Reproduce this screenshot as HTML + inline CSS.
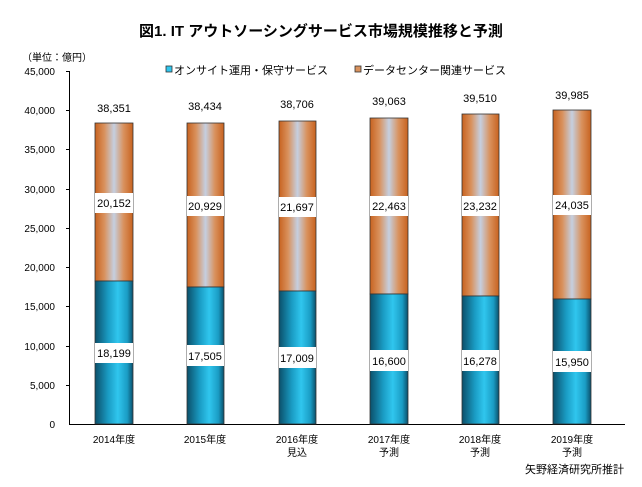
<!DOCTYPE html>
<html><head><meta charset="utf-8"><style>
body{margin:0;background:#fff;}
svg text{font-family:"Liberation Sans","Noto Sans CJK JP",sans-serif;}
</style></head><body>
<svg width="642" height="482" viewBox="0 0 642 482" xmlns="http://www.w3.org/2000/svg">
<defs>
<linearGradient id="b" x1="0" x2="1" y1="0" y2="0">
<stop offset="0" stop-color="#0b4f6a"/><stop offset="0.35" stop-color="#1a9cc4"/><stop offset="0.6" stop-color="#30c6ee"/><stop offset="0.85" stop-color="#1a9cc4"/><stop offset="1" stop-color="#0b4f6a"/>
</linearGradient>
<linearGradient id="o" x1="0" x2="1" y1="0" y2="0">
<stop offset="0" stop-color="#c8621f"/><stop offset="0.25" stop-color="#d9925e"/><stop offset="0.5" stop-color="#c5cfe0"/><stop offset="0.75" stop-color="#d9925e"/><stop offset="1" stop-color="#c8621f"/>
</linearGradient>
</defs>
<text x="321" y="36" font-size="15" font-weight="bold" text-anchor="middle" font-family="'Liberation Serif','Noto Serif CJK SC',serif">図1. IT アウトソーシングサービス市場規模推移と予測</text>
<text x="22" y="61" font-size="10">（単位：億円）</text>
<rect x="166" y="66" width="6" height="6" fill="#30c6ee" stroke="#333" stroke-width="0.8"/>
<text x="174" y="74" font-size="11">オンサイト運用・保守サービス</text>
<rect x="355" y="66" width="6" height="6" fill="#d9925e" stroke="#333" stroke-width="0.8"/>
<text x="363" y="74" font-size="11">データセンター関連サービス</text>
<g font-size="10" text-anchor="end">
<text x="55" y="75">45,000</text><text x="55" y="114">40,000</text><text x="55" y="153">35,000</text><text x="55" y="193">30,000</text><text x="55" y="232">25,000</text><text x="55" y="271">20,000</text><text x="55" y="310">15,000</text><text x="55" y="350">10,000</text><text x="55" y="389">5,000</text><text x="55" y="428">0</text>
</g>
<g stroke="#000" stroke-width="1">
<line x1="69.5" y1="71" x2="69.5" y2="424"/>
<line x1="69" y1="424.5" x2="625" y2="424.5"/>
<line x1="66" y1="71.5" x2="70" y2="71.5"/><line x1="66" y1="110.5" x2="70" y2="110.5"/><line x1="66" y1="149.5" x2="70" y2="149.5"/><line x1="66" y1="189.5" x2="70" y2="189.5"/><line x1="66" y1="228.5" x2="70" y2="228.5"/><line x1="66" y1="267.5" x2="70" y2="267.5"/><line x1="66" y1="306.5" x2="70" y2="306.5"/><line x1="66" y1="346.5" x2="70" y2="346.5"/><line x1="66" y1="385.5" x2="70" y2="385.5"/>
</g>
<g stroke="#333" stroke-width="0.8">
<rect x="95" y="123" width="38" height="158" fill="url(#o)"/><rect x="95" y="281" width="38" height="143" fill="url(#b)"/>
<rect x="187" y="123" width="37" height="164" fill="url(#o)"/><rect x="187" y="287" width="37" height="137" fill="url(#b)"/>
<rect x="279" y="121" width="37" height="170" fill="url(#o)"/><rect x="279" y="291" width="37" height="133" fill="url(#b)"/>
<rect x="370" y="118" width="38" height="176" fill="url(#o)"/><rect x="370" y="294" width="38" height="130" fill="url(#b)"/>
<rect x="462" y="114" width="37" height="182" fill="url(#o)"/><rect x="462" y="296" width="37" height="128" fill="url(#b)"/>
<rect x="553" y="110" width="38" height="189" fill="url(#o)"/><rect x="553" y="299" width="38" height="125" fill="url(#b)"/>
</g>
<g fill="#fff">
<rect x="95" y="193" width="38" height="20"/><rect x="187" y="196" width="37" height="20"/><rect x="279" y="197" width="37" height="20"/><rect x="370" y="196" width="38" height="20"/><rect x="462" y="196" width="37" height="20"/><rect x="553" y="195" width="38" height="20"/>
<rect x="95" y="343" width="38" height="20"/><rect x="187" y="345" width="37" height="21"/><rect x="279" y="347" width="37" height="21"/><rect x="370" y="350" width="38" height="21"/><rect x="462" y="350" width="37" height="21"/><rect x="553" y="351" width="38" height="21"/>
</g>
<g font-size="11" text-anchor="middle">
<text x="114" y="112">38,351</text><text x="205" y="110">38,434</text><text x="297" y="108">38,706</text><text x="389" y="105">39,063</text><text x="480" y="102">39,510</text><text x="572" y="99">39,985</text>
<text x="114" y="207">20,152</text><text x="205" y="210">20,929</text><text x="297" y="211">21,697</text><text x="389" y="210">22,463</text><text x="480" y="210">23,232</text><text x="572" y="209">24,035</text>
<text x="114" y="357">18,199</text><text x="205" y="360">17,505</text><text x="297" y="362">17,009</text><text x="389" y="365">16,600</text><text x="480" y="365">16,278</text><text x="572" y="366">15,950</text>
</g>
<g font-size="10" text-anchor="middle">
<text x="114" y="443">2014年度</text><text x="205" y="443">2015年度</text>
<text x="297" y="443">2016年度</text><text x="297" y="456">見込</text>
<text x="389" y="443">2017年度</text><text x="389" y="456">予測</text>
<text x="480" y="443">2018年度</text><text x="480" y="456">予測</text>
<text x="572" y="443">2019年度</text><text x="572" y="456">予測</text>
</g>
<text x="624" y="473" font-size="11" text-anchor="end">矢野経済研究所推計</text>
</svg>
</body></html>
